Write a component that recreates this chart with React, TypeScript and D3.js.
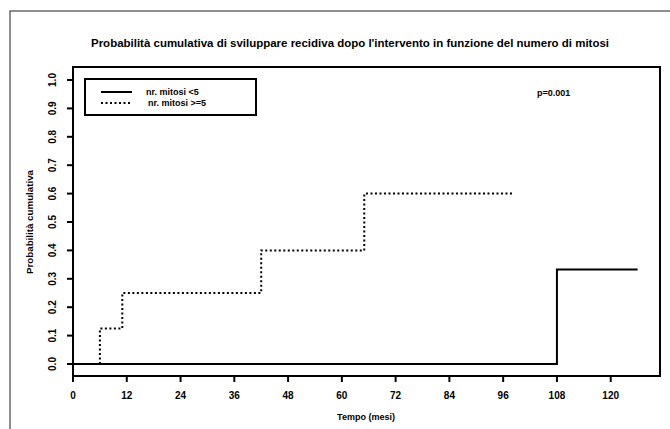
import React from "react";
import * as d3 from "d3";

const title = "Probabilità cumulativa di sviluppare recidiva dopo l'intervento in funzione del numero di mitosi";
const xTicks = [0, 12, 24, 36, 48, 60, 72, 84, 96, 108, 120];
const yTicks = [0, 0.1, 0.2, 0.3, 0.4, 0.5, 0.6, 0.7, 0.8, 0.9, 1.0];
const seriesNames = ["nr. mitosi <5", "nr. mitosi >=5"];
// step curves: [time, cumulative probability]
const lowTimes = [0, 108, 126];
const lowProbs = [0, 0.333, 0.333];
const highTimes = [6, 11, 42, 65, 98];
const highProbs = [0.125, 0.25, 0.4, 0.6, 0.6];
const pText = "p=0.001";

export default function App() {
  const W = 670, H = 429;
  const left = 73, right = 660, top = 67, bottom = 376;
  const x = d3.scaleLinear().domain([0, 131]).range([left, right]);
  const y = d3.scaleLinear().domain([0, 1]).range([364, 80]);
  const stepLine = d3.line<[number, number]>().x(d => x(d[0])).y(d => y(d[1])).curve(d3.curveStepAfter);

  const lowPts: [number, number][] = lowTimes.map((t, i) => [t, lowProbs[i]]);
  const highPts: [number, number][] = [[highTimes[0], 0], ...highTimes.map((t, i) => [t, highProbs[i]] as [number, number])];

  const font = "'Liberation Sans', Arial, sans-serif";
  return (
    <svg width={W} height={H} style={{ position: "absolute", left: 0, top: 0, background: "#fff" }} fontFamily={font}>
      <rect x={10} y={11} width={700} height={500} fill="#fff" stroke="#444" strokeWidth={1.2} />
      <text x={350} y={47} textAnchor="middle" fontSize={10.5} fontWeight="bold" textLength={518} lengthAdjust="spacingAndGlyphs">{title}</text>
      <rect x={left} y={top} width={right - left} height={bottom - top} fill="none" stroke="#000" strokeWidth={2} />
      {/* y axis */}
      <line x1={left} x2={left} y1={y(0)} y2={y(1)} stroke="#000" strokeWidth={2} />
      {yTicks.map(v => (
        <g key={v}>
          <line x1={left - 6} x2={left} y1={y(v)} y2={y(v)} stroke="#000" strokeWidth={2} />
          <text transform={`translate(${56},${y(v)}) rotate(-90)`} textAnchor="middle" fontSize={10} fontWeight="bold">{v.toFixed(1)}</text>
        </g>
      ))}
      {/* x axis */}
      {xTicks.map(v => (
        <g key={v}>
          <line x1={x(v)} x2={x(v)} y1={bottom} y2={bottom + 6} stroke="#000" strokeWidth={2} />
          <text x={x(v)} y={399} textAnchor="middle" fontSize={10} fontWeight="bold">{v}</text>
        </g>
      ))}
      <text x={366} y={420} textAnchor="middle" fontSize={9} fontWeight="bold">Tempo (mesi)</text>
      <text transform={`translate(33,222) rotate(-90)`} textAnchor="middle" fontSize={9} fontWeight="bold" textLength={104} lengthAdjust="spacingAndGlyphs">Probabilità cumulativa</text>
      {/* curves */}
      <path d={stepLine(lowPts) || ""} fill="none" stroke="#000" strokeWidth={2} />
      <path d={stepLine(highPts) || ""} fill="none" stroke="#000" strokeWidth={2} strokeDasharray="2,2.5" />
      {/* legend */}
      <rect x={85} y={79} width={171} height={36} fill="#fff" stroke="#000" strokeWidth={2} />
      <line x1={101} x2={132} y1={92} y2={92} stroke="#000" strokeWidth={2} />
      <line x1={101} x2={132} y1={103} y2={103} stroke="#000" strokeWidth={2} strokeDasharray="2,2.5" />
      <text x={146} y={95} fontSize={9} fontWeight="bold">{seriesNames[0]}</text>
      <text x={148} y={106} fontSize={9} fontWeight="bold">{seriesNames[1]}</text>
      <text x={537} y={96} fontSize={9} fontWeight="bold">{pText}</text>
    </svg>
  );
}
